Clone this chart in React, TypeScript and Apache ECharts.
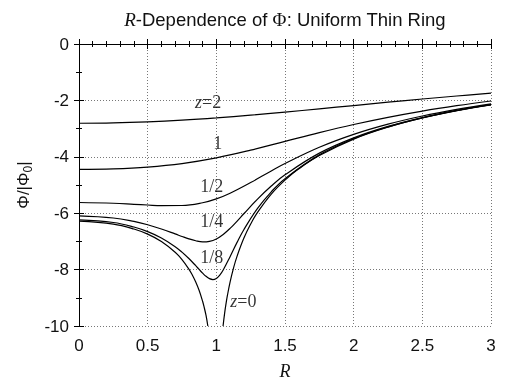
import React, { useEffect, useRef } from "react";
import * as echarts from "echarts";

// z = 2
const rZ2 = [0, 0.25, 0.5, 0.75, 1, 1.25, 1.5, 1.75, 2, 2.25, 2.5, 2.75, 3];
const phiZ2 = [-2.81, -2.798, -2.761, -2.702, -2.622, -2.525, -2.416, -2.3, -2.182, -2.064, -1.951, -1.844, -1.744];
// z = 1
const rZ1 = [0, 0.25, 0.5, 0.75, 1, 1.25, 1.5, 1.75, 2, 2.25, 2.5, 2.75, 3];
const phiZ1 = [-4.443, -4.425, -4.363, -4.24, -4.038, -3.765, -3.454, -3.143, -2.855, -2.601, -2.379, -2.188, -2.022];
// z = 1/2
const rZh = [0, 0.25, 0.4, 0.5, 0.6, 0.75, 0.9, 1, 1.1, 1.25, 1.4, 1.5, 1.75, 2, 2.25, 2.5, 2.75, 3];
const phiZh = [-5.62, -5.647, -5.684, -5.71, -5.731, -5.727, -5.63, -5.492, -5.291, -4.912, -4.502, -4.239, -3.663, -3.206, -2.844, -2.554, -2.317, -2.12];
// z = 1/4
const rZq = [0, 0.25, 0.4, 0.5, 0.6, 0.7, 0.75, 0.8, 0.85, 0.9, 0.95, 1, 1.05, 1.1, 1.15, 1.2, 1.3, 1.4, 1.5, 1.75, 2, 2.25, 2.5, 2.75, 3];
const phiZq = [-6.096, -6.17, -6.293, -6.411, -6.56, -6.734, -6.825, -6.911, -6.978, -7.016, -6.997, -6.913, -6.754, -6.54, -6.287, -6.02, -5.5, -5.036, -4.638, -3.87, -3.327, -2.921, -2.606, -2.354, -2.147];
// z = 1/8
const rZe = [0, 0.25, 0.4, 0.5, 0.6, 0.7, 0.75, 0.8, 0.85, 0.875, 0.9, 0.925, 0.95, 0.975, 1, 1.025, 1.05, 1.1, 1.15, 1.2, 1.3, 1.4, 1.5, 1.75, 2, 2.25, 2.5, 2.75, 3];
const phiZe = [-6.235, -6.329, -6.489, -6.654, -6.878, -7.186, -7.381, -7.608, -7.862, -7.995, -8.124, -8.239, -8.321, -8.352, -8.312, -8.195, -8.013, -7.541, -7.044, -6.585, -5.829, -5.241, -4.775, -3.932, -3.36, -2.941, -2.619, -2.363, -2.154];
// z = 0 (inner branch, R < 1)
const rZ0a = [0, 0.25, 0.4, 0.5, 0.6, 0.7, 0.75, 0.8, 0.825, 0.85, 0.875, 0.9, 0.91, 0.925, 0.938];
const phiZ0a = [-6.283, -6.385, -6.56, -6.743, -7.003, -7.383, -7.644, -7.981, -8.191, -8.44, -8.742, -9.122, -9.305, -9.627, -10.0];
// z = 0 (outer branch, R > 1)
const rZ0b = [1.049, 1.06, 1.07, 1.08, 1.1, 1.125, 1.15, 1.2, 1.25, 1.3, 1.4, 1.5, 1.6, 1.75, 2, 2.25, 2.5, 2.75, 3];
const phiZ0b = [-10.0, -9.559, -9.225, -8.934, -8.443, -7.948, -7.539, -6.891, -6.385, -5.971, -5.322, -4.826, -4.426, -3.954, -3.372, -2.948, -2.624, -2.366, -2.157];

// curve labels
const labelR = [0.94, 1.01, 0.966, 0.966, 0.966, 1.197];
const labelPhi = [-2.04, -3.51, -5.05, -6.27, -7.54, -9.1];
const labelText = ["{i|z}{n|=2}", "{n|1}", "{n|1/2}", "{n|1/4}", "{n|1/8}", "{i|z}{n|=0}"];

const xTicks = { min: 0, max: 3, interval: 0.5 };
const yTicks = { min: -10, max: 0, interval: 2 };

const SANS = "'Liberation Sans', Arial, sans-serif";
const SERIF = "'Liberation Serif', 'Times New Roman', serif";

export default function App() {
  const ref = useRef<HTMLDivElement>(null);
  useEffect(() => {
    if (!ref.current) return;
    const chart = echarts.init(ref.current, undefined, { renderer: "svg" });
    const pair = (r: number[], p: number[]) => r.map((x, i) => [x, p[i]]);
    const lineSeries = (r: number[], p: number[]) => ({
      type: "line",
      data: pair(r, p),
      showSymbol: false,
      symbol: "none",
      smooth: 0.4,
      clip: true,
      lineStyle: { color: "#000", width: 1.2 },
      silent: true,
    });
    const baseAxisLine = { show: true, lineStyle: { color: "#000", width: 1 } };
    const gridLine = { show: true, lineStyle: { color: "#777", type: [1, 2], width: 1 } };
    const option: any = {
      animation: false,
      grid: { left: 79, right: 27, top: 44, bottom: 64 },
      graphic: [
        {
          type: "text",
          x: 285,
          y: 10,
          style: {
            text: "{it|R}{n|-Dependence of }{phi|Φ}{n|: Uniform Thin Ring}",
            textAlign: "center",
            rich: {
              it: { fontFamily: SERIF, fontStyle: "italic", fontSize: 19, fill: "#111" },
              n: { fontFamily: SANS, fontSize: 18.5, fill: "#111" },
              phi: { fontFamily: SERIF, fontSize: 19, fill: "#111" },
            },
          },
        },
      ],
      xAxis: [
        {
          type: "value",
          ...xTicks,
          name: "R",
          nameLocation: "middle",
          nameGap: 36,
          nameTextStyle: { fontFamily: SERIF, fontStyle: "italic", fontSize: 18, color: "#111" },
          axisLine: baseAxisLine,
          axisTick: { show: true, inside: true, length: 5, lineStyle: { color: "#000" } },
          minorTick: { show: true, splitNumber: 5, length: 3, lineStyle: { color: "#000" } },
          axisLabel: { fontFamily: SANS, fontSize: 17, color: "#111", margin: 11 },
          splitLine: gridLine,
        },
        {
          type: "value",
          position: "top",
          ...xTicks,
          axisLine: baseAxisLine,
          axisTick: { show: true, inside: true, length: 5, lineStyle: { color: "#000" } },
          minorTick: { show: true, splitNumber: 5, length: 3, lineStyle: { color: "#000" } },
          axisLabel: { show: false },
          splitLine: { show: false },
        },
      ],
      yAxis: [
        {
          type: "value",
          ...yTicks,
          name: "{a|Φ/|Φ}{s|0}{a||}",
          nameLocation: "middle",
          nameGap: 45,
          nameRotate: 90,
          nameTextStyle: {
            rich: {
              a: { fontFamily: SANS, fontSize: 17, color: "#111", lineHeight: 20 },
              s: { fontFamily: SANS, fontSize: 12, color: "#111", verticalAlign: "bottom", lineHeight: 20 },
            },
          },
          axisLine: baseAxisLine,
          axisTick: { show: true, inside: true, length: 5, lineStyle: { color: "#000" } },
          minorTick: { show: true, splitNumber: 2, length: 3, lineStyle: { color: "#000" } },
          axisLabel: { fontFamily: SANS, fontSize: 17, color: "#111", margin: 10 },
          splitLine: gridLine,
        },
        {
          type: "value",
          position: "right",
          ...yTicks,
          axisLine: baseAxisLine,
          axisTick: { show: true, inside: true, length: 5, lineStyle: { color: "#000" } },
          minorTick: { show: true, splitNumber: 2, length: 3, lineStyle: { color: "#000" } },
          axisLabel: { show: false },
          splitLine: { show: false },
        },
      ],
      series: [
        lineSeries(rZ2, phiZ2),
        lineSeries(rZ1, phiZ1),
        lineSeries(rZh, phiZh),
        lineSeries(rZq, phiZq),
        lineSeries(rZe, phiZe),
        lineSeries(rZ0a, phiZ0a),
        lineSeries(rZ0b, phiZ0b),
        {
          type: "scatter",
          data: pair(labelR, labelPhi),
          symbolSize: 1,
          itemStyle: { color: "rgba(0,0,0,0)" },
          silent: true,
          z: 5,
          label: {
            show: true,
            position: "inside",
            color: "#000",
            textBorderWidth: 0,
            formatter: (p: any) => labelText[p.dataIndex],
            rich: {
              i: { fontFamily: SERIF, fontStyle: "italic", fontSize: 18, color: "#000", textBorderWidth: 0 },
              n: { fontFamily: SERIF, fontSize: 18, color: "#000", textBorderWidth: 0 },
            },
          },
        },
      ],
    };
    chart.setOption(option);
    return () => chart.dispose();
  }, []);
  return (
    <div
      ref={ref}
      style={{ position: "fixed", left: 0, top: 0, width: 518, height: 390 }}
    />
  );
}
